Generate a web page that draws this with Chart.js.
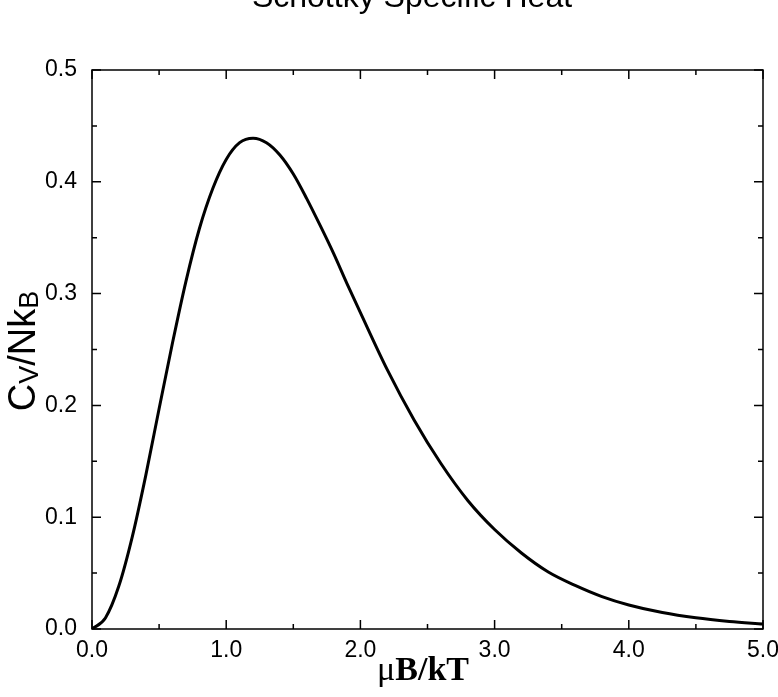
<!DOCTYPE html>
<html>
<head>
  <meta charset="UTF-8">
  <title>Schottky Specific Heat</title>
  <style>
    body {
      margin: 0;
      padding: 0;
      background-color: #fff;
    }
    #wrap {
      width: 778px;
      height: 697px;
    }
  </style>
  <script src="https://cdn.jsdelivr.net/npm/chart.js"></script>
</head>
<body>
  <div id="wrap">
    <canvas id="heatChart" width="778" height="697"></canvas>
  </div>
  <script>
    // values (muB/kT -> Cv/NkB)
    var xValues = [0, 0.1, 0.2, 0.3, 0.4, 0.5, 0.6, 0.7, 0.8, 0.9, 1.0, 1.1, 1.2, 1.3, 1.4, 1.5,
      1.6, 1.7, 1.8, 1.9, 2.0, 2.2, 2.4, 2.6, 2.8, 3.0, 3.2, 3.4, 3.6, 3.8, 4.0, 4.25, 4.5, 4.75, 5.0];
    var cvValues = [0, 0.0099, 0.0384, 0.0824, 0.137, 0.197, 0.256, 0.311, 0.358, 0.394, 0.420,
      0.435, 0.439, 0.435, 0.424, 0.407, 0.385, 0.361, 0.336, 0.309, 0.283, 0.232, 0.187, 0.148,
      0.115, 0.089, 0.068, 0.051, 0.039, 0.029, 0.0215, 0.0147, 0.0100, 0.0068, 0.0045];

    var chartTitle = 'Schottky Specific Heat';
    var xMajor = [0, 1, 2, 3, 4, 5];
    var xMinor = [0.5, 1.5, 2.5, 3.5, 4.5];
    var yMajor = [0, 0.1, 0.2, 0.3, 0.4, 0.5];
    var yMinor = [0.05, 0.15, 0.25, 0.35, 0.45];

    var points = [];
    for (var i = 0; i < xValues.length; i++) {
      points.push({ x: xValues[i], y: cvValues[i] });
    }

    // frame, inward ticks, title and axis labels
    var framePlugin = {
      id: 'frame',
      afterDraw: function(chart) {
        var ctx = chart.ctx;
        var a = chart.chartArea;
        var xs = chart.scales.x;
        var ys = chart.scales.y;
        ctx.save();
        ctx.strokeStyle = '#000';
        ctx.lineWidth = 1.5;
        ctx.strokeRect(a.left, a.top, a.right - a.left, a.bottom - a.top);

        ctx.beginPath();
        function xt(v, len) {
          var px = xs.getPixelForValue(v);
          ctx.moveTo(px, a.bottom); ctx.lineTo(px, a.bottom - len);
          ctx.moveTo(px, a.top); ctx.lineTo(px, a.top + len);
        }
        function yt(v, len) {
          var py = ys.getPixelForValue(v);
          ctx.moveTo(a.left, py); ctx.lineTo(a.left + len, py);
          ctx.moveTo(a.right, py); ctx.lineTo(a.right - len, py);
        }
        xMajor.forEach(function(v) { xt(v, 9); });
        xMinor.forEach(function(v) { xt(v, 5); });
        yMajor.forEach(function(v) { yt(v, 9); });
        yMinor.forEach(function(v) { yt(v, 5); });
        ctx.stroke();

        ctx.fillStyle = '#000';
        ctx.textBaseline = 'alphabetic';

        // title (partly above the page edge, as in the original)
        ctx.font = '32px "Liberation Sans", Arial, sans-serif';
        ctx.textAlign = 'center';
        ctx.fillText(chartTitle, 412, 7);

        // x label: muB/kT
        ctx.textAlign = 'left';
        ctx.font = '34px "Liberation Serif", serif';
        var mu = '\u03bc';
        var wMu = ctx.measureText(mu).width;
        ctx.font = 'bold 34px "Liberation Serif", serif';
        var rest = 'B/kT';
        var wRest = ctx.measureText(rest).width;
        var x0 = 423 - (wMu + wRest) / 2;
        ctx.font = '34px "Liberation Serif", serif';
        ctx.fillText(mu, x0, 680);
        ctx.font = 'bold 34px "Liberation Serif", serif';
        ctx.fillText(rest, x0 + wMu, 680);

        // y label: C_V/Nk_B
        var big = '38px "Liberation Sans", Arial, sans-serif';
        var small = '27px "Liberation Sans", Arial, sans-serif';
        var parts = [['C', big, 0], ['V', small, 3], ['/Nk', big, 0], ['B', small, 3]];
        var total = 0;
        parts.forEach(function(p) { ctx.font = p[1]; p.push(ctx.measureText(p[0]).width); total += p[3]; });
        ctx.translate(35, 351);
        ctx.rotate(-Math.PI / 2);
        var cx = -total / 2;
        parts.forEach(function(p) {
          ctx.font = p[1];
          ctx.fillText(p[0], cx, p[2]);
          cx += p[3];
        });
        ctx.restore();
      }
    };

    var ctx = document.getElementById('heatChart').getContext('2d');
    var chartHeat = new Chart(ctx, {
      type: 'line',
      data: {
        datasets: [{
          label: 'Cv/NkB',
          data: points,
          borderColor: '#000',
          borderWidth: 3,
          pointRadius: 0,
          fill: false,
          cubicInterpolationMode: 'monotone'
        }]
      },
      options: {
        responsive: false,
        animation: false,
        layout: {
          padding: { top: 70, right: 15, left: 0, bottom: 0 }
        },
        plugins: {
          legend: { display: false },
          title: { display: false },
          tooltip: { enabled: false }
        },
        scales: {
          x: {
            type: 'linear',
            min: 0,
            max: 5,
            afterFit: function(s) { s.height = 68; s.paddingLeft = 0; s.paddingRight = 0; },
            grid: { display: false, drawTicks: false },
            border: { display: false },
            ticks: {
              stepSize: 1,
              padding: 8,
              color: '#000',
              font: { family: '"Liberation Sans", Arial, sans-serif', size: 23 },
              maxRotation: 0,
              callback: function(v) { return v.toFixed(1); }
            }
          },
          y: {
            min: 0,
            max: 0.5,
            afterFit: function(s) { s.width = 92; s.paddingTop = 0; s.paddingBottom = 0; },
            grid: { display: false, drawTicks: false },
            border: { display: false },
            ticks: {
              stepSize: 0.1,
              padding: 15,
              color: '#000',
              font: { family: '"Liberation Sans", Arial, sans-serif', size: 23 },
              callback: function(v) { return v.toFixed(1); }
            }
          }
        }
      },
      plugins: [framePlugin]
    });
  </script>
</body>
</html>
